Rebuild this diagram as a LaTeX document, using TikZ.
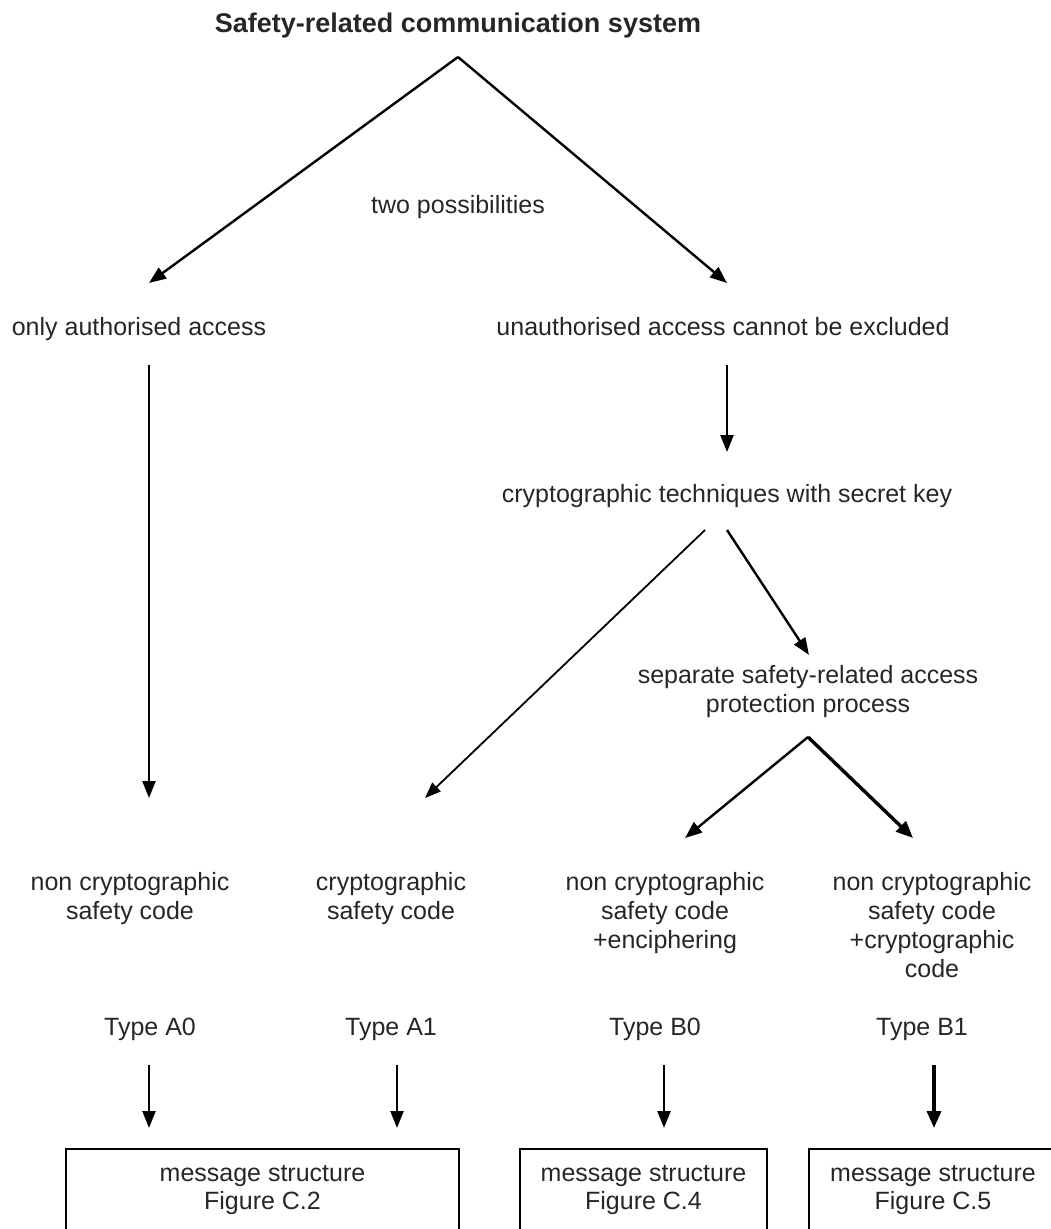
\documentclass[tikz,border=0pt]{standalone}
\usepackage{fontspec}
\setmainfont{Liberation Sans}
\usetikzlibrary{arrows.meta}
\begin{document}
\begin{tikzpicture}[x=1pt,y=-1pt,
  txt/.style={inner sep=0pt,font=\fontsize{25}{29}\selectfont,text=black!85},
  ttl/.style={inner sep=0pt,font=\fontsize{27}{31}\selectfont\bfseries,text=black!85},
  multi/.style={txt,align=center,anchor=north},
  arr/.style={line width=2.4pt,-{Triangle[length=17pt,width=13pt]}},
  thinarr/.style={line width=1.8pt,-{Triangle[length=16pt,width=12pt]}},
  heavyarr/.style={line width=3.4pt,-{Triangle[length=17pt,width=14pt]}},
  msgbox/.style={draw,line width=1.6pt,align=center,anchor=north,inner xsep=0pt,inner ysep=17pt,
    font=\fontsize{25}{28}\selectfont,text=black!85}]
\useasboundingbox (0,0) rectangle (1050,1229);

% labels
\node[ttl,anchor=base] (title) at (458,32) {Safety-related communication system};
\node[txt,anchor=base] (two) at (458,213) {two possibilities};
\node[txt,anchor=base] (only) at (139,335) {only authorised access};
\node[txt,anchor=base] (unauth) at (723,335) {unauthorised access cannot be excluded};
\node[txt,anchor=base] (crypto) at (727,502) {cryptographic techniques with secret key};
\node[multi] (sep) at (808,665) {separate safety-related access\\protection process};
\node[multi] (a0) at (130,872) {non cryptographic\\safety code};
\node[multi] (a1) at (391,872) {cryptographic\\safety code};
\node[multi] (b0) at (665,872) {non cryptographic\\safety code\\+enciphering};
\node[multi] (b1) at (932,872) {non cryptographic\\safety code\\+cryptographic\\code};
\node[txt,anchor=base] (ta0) at (150,1035) {Type A0};
\node[txt,anchor=base] (ta1) at (391,1035) {Type A1};
\node[txt,anchor=base] (tb0) at (655,1035) {Type B0};
\node[txt,anchor=base] (tb1) at (922,1035) {Type B1};

% message structure boxes
\node[msgbox,minimum width=393pt] (box1) at (262.5,1148) {message structure\\Figure C.2};
\node[msgbox,minimum width=247pt] (box2) at (643.5,1148) {message structure\\Figure C.4};
\node[msgbox,minimum width=248pt] (box3) at (933,1148) {message structure\\Figure C.5};

% branch points and arrow ends
\coordinate (fork1) at (458,57);
\coordinate (onlyin) at (149,283);
\coordinate (unauthin) at (727,283);
\coordinate (onlyout) at (149,365);
\coordinate (a0in) at (149,798);
\coordinate (unauthout) at (727,365);
\coordinate (cryptoin) at (727,452);
\coordinate (cryptoL) at (705,530);
\coordinate (cryptoR) at (727,530);
\coordinate (a1in) at (425,798);
\coordinate (sepin) at (809,655);
\coordinate (fork2) at (808,737);
\coordinate (b0in) at (685,838);
\coordinate (b1in) at (913,838);
\coordinate (ta0out) at (149,1065);
\coordinate (ta1out) at (397,1065);
\coordinate (tb0out) at (664,1065);
\coordinate (tb1out) at (934,1065);
\coordinate (box1a) at (149,1128);
\coordinate (box1b) at (397,1128);
\coordinate (box2a) at (664,1128);
\coordinate (box3a) at (934,1128);

% connectors
\draw[arr] (fork1) -- (onlyin);
\draw[arr] (fork1) -- (unauthin);
\draw[arr] (onlyout) -- (a0in);
\draw[arr] (unauthout) -- (cryptoin);
\draw[thinarr] (cryptoL) -- (a1in);
\draw[arr] (cryptoR) -- (sepin);
\draw[arr] (fork2) -- (b0in);
\draw[heavyarr] (fork2) -- (b1in);
\draw[arr] (ta0out) -- (box1a);
\draw[arr] (ta1out) -- (box1b);
\draw[arr] (tb0out) -- (box2a);
\draw[heavyarr] (tb1out) -- (box3a);
\end{tikzpicture}
\end{document}
